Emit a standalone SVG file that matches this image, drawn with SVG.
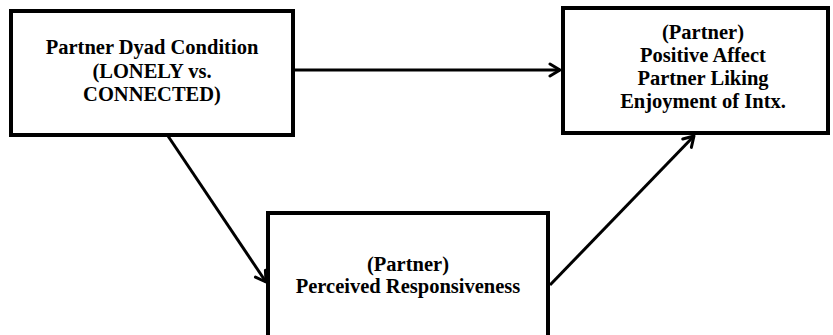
<svg xmlns="http://www.w3.org/2000/svg" width="833" height="335" viewBox="0 0 833 335">
<style>
.box{fill:#fff;stroke:#000;stroke-width:4}
.t{font-family:"Liberation Serif","Times New Roman",serif;font-weight:bold;font-size:20.5px;fill:#000;text-anchor:middle}
.c{stroke:#000;stroke-width:3;fill:none}
</style>
<defs>
<marker id="ah" markerWidth="16" markerHeight="16" refX="13" refY="8" orient="auto" markerUnits="userSpaceOnUse">
<path d="M3,2 L13,8 L3,14" fill="none" stroke="#000" stroke-width="3" stroke-linecap="round" stroke-linejoin="round"/>
</marker>
</defs>
<rect width="833" height="335" fill="#fff"/>
<g id="connectors">
<line class="c" x1="295" y1="70" x2="560" y2="70" marker-end="url(#ah)"/>
<line class="c" x1="168" y1="136" x2="266" y2="282" marker-end="url(#ah)"/>
<line class="c" x1="550" y1="285" x2="694" y2="136" marker-end="url(#ah)"/>
</g>
<g id="node-condition">
<rect class="box" x="11" y="11" width="282" height="124"/>
<text class="t" x="152" y="54">Partner Dyad Condition</text>
<text class="t" x="152" y="78">(LONELY vs.</text>
<text class="t" x="152" y="101">CONNECTED)</text>
</g>
<g id="node-outcomes">
<rect class="box" x="563" y="8" width="265" height="125"/>
<text class="t" x="703" y="39">(Partner)</text>
<text class="t" x="703" y="62">Positive Affect</text>
<text class="t" x="703" y="85">Partner Liking</text>
<text class="t" x="703" y="108">Enjoyment of Intx.</text>
</g>
<g id="node-responsiveness">
<rect class="box" x="268" y="213" width="280" height="140"/>
<text class="t" x="408" y="271">(Partner)</text>
<text class="t" x="408" y="293">Perceived Responsiveness</text>
</g>
</svg>
